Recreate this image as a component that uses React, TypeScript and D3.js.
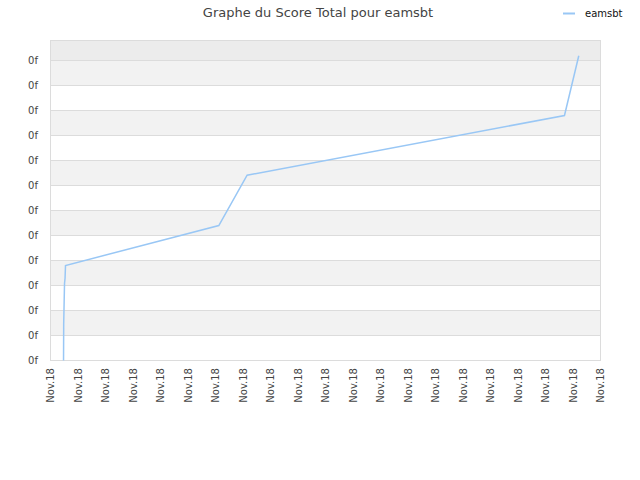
import React from "react";
import * as d3 from "d3";

// x positions in tick units (21 ticks, all labelled "Nov.18")
const xTickLabels = Array.from({ length: 21 }, () => "Nov.18");
const yTickLabels = Array.from({ length: 13 }, () => "0f");

// score line (x in tick units, y in grid units)
const seriesX = [0.474, 0.48, 0.51, 0.53, 0.546, 6.12, 7.15, 18.69, 19.21];
const seriesY = [0, 1.48, 3.08, 3.3, 3.8, 5.4, 7.41, 9.8, 12.19];

const seriesName = "eamsbt";
const title = "Graphe du Score Total pour eamsbt";

export default function App() {
	const width = 640;
	const height = 480;
	const left = 50.5;
	const right = 600.5;
	const top = 40.5;
	const bottom = 360.5;
	const font = "'DejaVu Sans', Verdana, sans-serif";

	const x = d3.scaleLinear().domain([0, 20]).range([left, right]);
	const y = d3.scaleLinear().domain([0, 12.8]).range([bottom, top]);

	const yTicks = yTickLabels.map((_, i) => i);
	const xTicks = xTickLabels.map((_, i) => i);

	const line = d3
		.line<number>()
		.x((_, i) => x(seriesX[i]))
		.y((d) => y(d));

	return (
		<svg
			width={width}
			height={height}
			style={{ position: "absolute", left: 0, top: 0 }}
		>
			<rect width={width} height={height} fill="#fff" />

			{/* bands */}
			{yTicks.slice(0, -1).map((t) => (
				<rect
					key={"b" + t}
					x={left}
					y={y(t + 1)}
					width={right - left}
					height={y(t) - y(t + 1)}
					fill={t % 2 === 1 ? "#f2f2f2" : "#ffffff"}
				/>
			))}
			<rect
				x={left}
				y={top}
				width={right - left}
				height={y(12) - top}
				fill="#ececec"
			/>

			{/* grid */}
			{yTicks.map((t) => (
				<line
					key={"g" + t}
					x1={left}
					x2={right}
					y1={y(t)}
					y2={y(t)}
					stroke="#dcdcdc"
				/>
			))}
			<rect
				x={left}
				y={top}
				width={right - left}
				height={bottom - top}
				fill="none"
				stroke="#dcdcdc"
			/>

			{/* y labels */}
			{yTicks.map((t) => (
				<text
					key={"y" + t}
					x={38}
					y={y(t)}
					dy="0.35em"
					textAnchor="end"
					fontFamily={font}
					fontSize={10}
					fill="#444"
				>
					{yTickLabels[t]}
				</text>
			))}

			{/* x labels */}
			{xTicks.map((t) => (
				<text
					key={"x" + t}
					transform={`translate(${x(t)},${368}) rotate(-90)`}
					dy="0.35em"
					textAnchor="end"
					fontFamily={font}
					fontSize={10}
					fill="#444"
				>
					{xTickLabels[t]}
				</text>
			))}

			{/* series */}
			<path
				d={line(seriesY) || undefined}
				fill="none"
				stroke="#99c7f5"
				strokeWidth={1.5}
			/>

			{/* title */}
			<text
				x={318}
				y={17}
				textAnchor="middle"
				fontFamily={font}
				fontSize={13}
				fill="#444"
			>
				{title}
			</text>

			{/* legend */}
			<line x1={563} x2={575} y1={13.5} y2={13.5} stroke="#99c7f5" strokeWidth={2} />
			<text
				x={585}
				y={13.5}
				dy="0.35em"
				fontFamily={font}
				fontSize={10}
				fill="#111"
			>
				{seriesName}
			</text>
		</svg>
	);
}
